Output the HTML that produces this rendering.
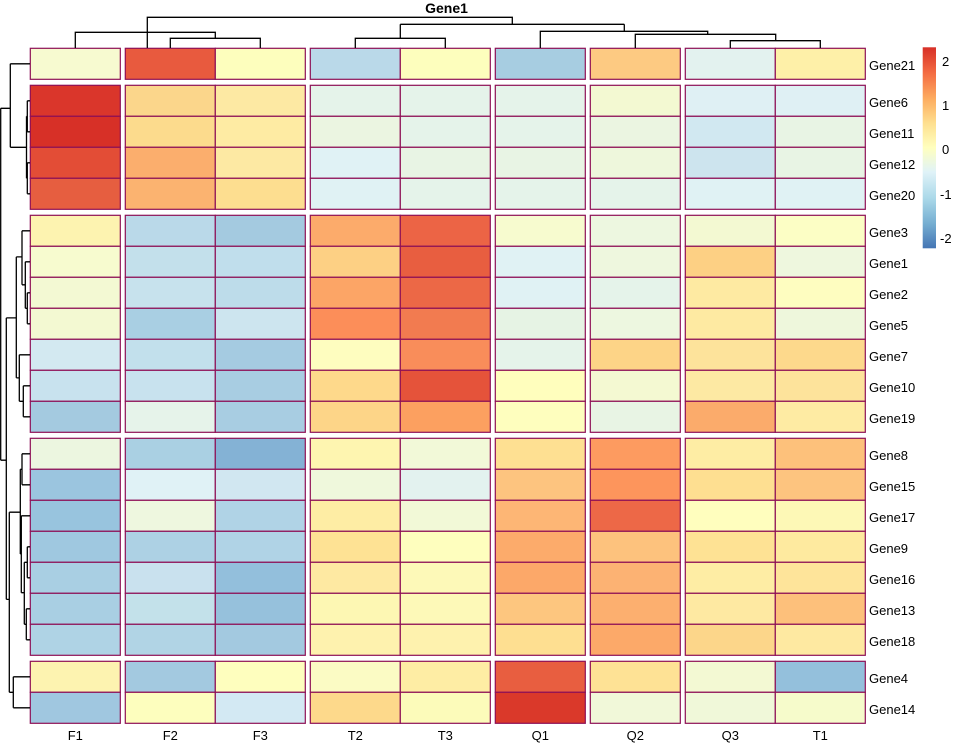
<!DOCTYPE html>
<html><head><meta charset="utf-8"><style>
html,body{margin:0;padding:0;background:#fff;width:957px;height:746px;overflow:hidden}
svg{display:block}
text{font-family:"Liberation Sans",Arial,sans-serif;font-size:13px;fill:#000}
</style></head><body>
<svg id="s" width="957" height="746" viewBox="0 0 957 746" xmlns="http://www.w3.org/2000/svg">
<defs><linearGradient id="lg" x1="0" y1="0" x2="0" y2="1">
<stop offset="0" stop-color="#d73027"/><stop offset="0.13" stop-color="#f46d43"/><stop offset="0.26" stop-color="#fdae61"/><stop offset="0.38" stop-color="#fee090"/><stop offset="0.5" stop-color="#ffffbf"/><stop offset="0.62" stop-color="#e0f3f8"/><stop offset="0.75" stop-color="#abd9e9"/><stop offset="0.88" stop-color="#74add1"/><stop offset="1" stop-color="#4575b4"/></linearGradient></defs>
<g id="cells"></g>
<g stroke="#000" stroke-width="1.3" fill="none">
<path d="M147.3 48V17.3H512.3V24.3M75.3 48V32.3H215.3V38.3M147.3 32.3V17.3M170.3 48V38.3H260.3V48M215.3 32.3V38.3
M400.3 24.3H624.3M400.3 24.3V38.3M355.3 48V38.3H445.3V48M624.3 24.3V31.3M540.3 48V31.3H707.7V34.3M635.3 48V34.3H775.7V40.7M730.3 48V40.7H820.3V48"/>
<path d="M0.7 108.3V460.2M0.7 108.3H10.3M10.3 63.8V147.3M10.3 63.8H30M10.3 147.3H26.5M26.5 116.3V178.3M26.5 116.3H27.3M27.3 100.8V131.8M27.3 100.8H30M27.3 131.8H30M26.5 178.3H27.3M27.3 162.8V193.8M27.3 162.8H30M27.3 193.8H30
M0.7 460.2H6.3M6.3 317.9V599.4M6.3 317.9H16.3M16.3 256.9V377.9M16.3 256.9H22M22 230.8V284.8M22 230.8H30M22 284.8H25.3M25.3 261.8V308.3M25.3 261.8H30M25.3 308.3H27.3M27.3 292.8V323.8M27.3 292.8H30M27.3 323.8H30
M16.3 377.9H19.3M19.3 354.8V401.3M19.3 354.8H30M19.3 401.3H23.3M23.3 385.8V416.8M23.3 385.8H30M23.3 416.8H30
M6.3 599.4H9.3M9.3 512.2V692.3M9.3 692.3H13.3M13.3 676.8V707.8M13.3 676.8H30M13.3 707.8H30
M9.3 512.2H20.3M20.3 469.3V554M20.3 469.3H22M22 453.8V484.8M22 453.8H30M22 484.8H30M20.3 554H21.3M21.3 515.8V592.7M21.3 515.8H30M21.3 592.7H24.3M24.3 562.3V624.3M24.3 562.3H27.3M27.3 546.8V577.8M27.3 546.8H30M27.3 577.8H30M24.3 624.3H26.3M26.3 608.8V639.8M26.3 608.8H30M26.3 639.8H30"/>
</g>
<text x="446.5" y="13" text-anchor="middle" style="font-weight:bold;font-size:14px">Gene1</text>
<g>
<text x="869" y="70">Gene21</text>
<text x="869" y="107">Gene6</text><text x="869" y="138">Gene11</text><text x="869" y="169">Gene12</text><text x="869" y="200">Gene20</text>
<text x="869" y="237">Gene3</text><text x="869" y="268">Gene1</text><text x="869" y="299">Gene2</text><text x="869" y="330">Gene5</text><text x="869" y="361">Gene7</text><text x="869" y="392">Gene10</text><text x="869" y="423">Gene19</text>
<text x="869" y="460">Gene8</text><text x="869" y="491">Gene15</text><text x="869" y="522">Gene17</text><text x="869" y="553">Gene9</text><text x="869" y="584">Gene16</text><text x="869" y="615">Gene13</text><text x="869" y="646">Gene18</text>
<text x="869" y="683">Gene4</text><text x="869" y="714">Gene14</text>
</g>
<g text-anchor="middle">
<text x="75.3" y="740">F1</text><text x="170.3" y="740">F2</text><text x="260.3" y="740">F3</text><text x="355.3" y="740">T2</text><text x="445.3" y="740">T3</text><text x="540.3" y="740">Q1</text><text x="635.3" y="740">Q2</text><text x="730.3" y="740">Q3</text><text x="820.3" y="740">T1</text>
</g>
<rect x="922.7" y="47.3" width="13.3" height="201" fill="url(#lg)"/>
<g style="font-size:12px">
<text x="942" y="66">2</text><text x="942" y="110">1</text><text x="942" y="154">0</text><text x="940" y="199">-1</text><text x="940" y="243">-2</text>
</g>
</svg>
<script>
var C=[
["f7fad0","e85a3e","fdfebd","bad9e9","fdfebd","a7cde1","fdca82","e3f2ef","fef0a8"],
["da362b","fbd68b","fde9a3","e5f3ea","e5f3ea","e5f3ea","f3f9d2","dff0f4","dff0f4"],
["d73027","fcdb8d","feeba3","ebf5e1","e5f3ea","e5f3ea","ebf5e1","d1e8f1","e8f4e4"],
["e34d36","fbae6d","fde9a3","e0f2f5","e8f4e4","e8f4e4","eef7dc","cde4ee","e8f4e4"],
["e65e40","fbb370","fdde90","e0f2f4","e5f3ea","e5f3ea","e5f3ea","e0f2f4","e0f2f4"],
["fdf3b0","bad9e9","a4cae0","fcab6b","ec6445","f7fbcf","edf7e0","f3f9d2","fcfec5"],
["f7fbcf","c3e0eb","c0deec","fdd084","e85e40","e0f2f4","eef7de","fdd084","eef7de"],
["f3f9d3","c7e2ed","bddcea","fca566","ec6846","e0f2f4","e5f3ea","feeaa2","fefdc0"],
["f3f9d2","a9cfe3","cde5ef","fc8e59","f27b50","e6f3e4","edf7e0","feeaa2","eef7dc"],
["d3e9f1","c2e0ec","a5cbe1","fefdbf","f98d5a","e5f3ea","fdd487","fde39b","fdd98c"],
["c8e2ee","c8e2ee","a8cde2","fed98b","e5533a","fffebd","f4f9d2","fde9a3","fde39b"],
["a4cae0","e6f3ea","a8cde2","fdd588","fca060","fefebe","e8f4e4","fbab6b","feeba3"],
["ecf6e0","aad0e3","84b2d5","fef5b0","f2f9d8","fee092","fd9b60","feeda4","fdc17b"],
["9bc5df","e0f2f6","d1e7f1","eff8dc","e3f2ef","fdc47f","fd955c","fedf91","fdc47f"],
["98c4de","eef7df","b0d3e6","feeda4","f2f9d7","fdb675","ed6847","fffebe","fdf8b6"],
["9fc8e0","add1e4","b0d3e6","fee294","fefebe","fcab6b","fdc27d","fee294","feea9f"],
["a9cfe3","c9e1ee","93bfdc","fee9a2","fdf9b8","fca869","fcb273","feeda4","fee49a"],
["a9cfe3","c3e1ea","96c1dc","fdf7b3","fdf9b8","fdc67f","fcaf6f","fee9a2","fdc07b"],
["afd3e5","b1d4e5","a3c9e0","fef2ae","fef2ae","fedf91","fca969","fcd68a","fee9a1"],
["fdf3b0","a3c9e0","fefebe","fbfbc4","feeda4","e85e40","fee295","f3f9d3","94c0dc"],
["a0c7e0","fdfebe","d3e9f3","fdd98b","fcfbba","da392a","f1f8d9","f0f8d9","f6fbcb"]];
var gs=[48.3,85.3,215.3,438.3,661.3],gn=[1,4,7,7,2];
var xs=[30.3,125.3,215.3,310.3,400.3,495.3,590.3,685.3,775.3];
var ys=[];for(var g=0;g<5;g++)for(var i=0;i<gn[g];i++)ys.push(gs[g]+i*31);
var h="";
for(var r=0;r<21;r++)for(var c=0;c<9;c++)h+='<rect x="'+xs[c]+'" y="'+ys[r]+'" width="90" height="31" fill="#'+C[r][c]+'" stroke="#8e1056" stroke-width="1.2"/>';
document.getElementById("cells").innerHTML=h;
</script>
</body></html>
